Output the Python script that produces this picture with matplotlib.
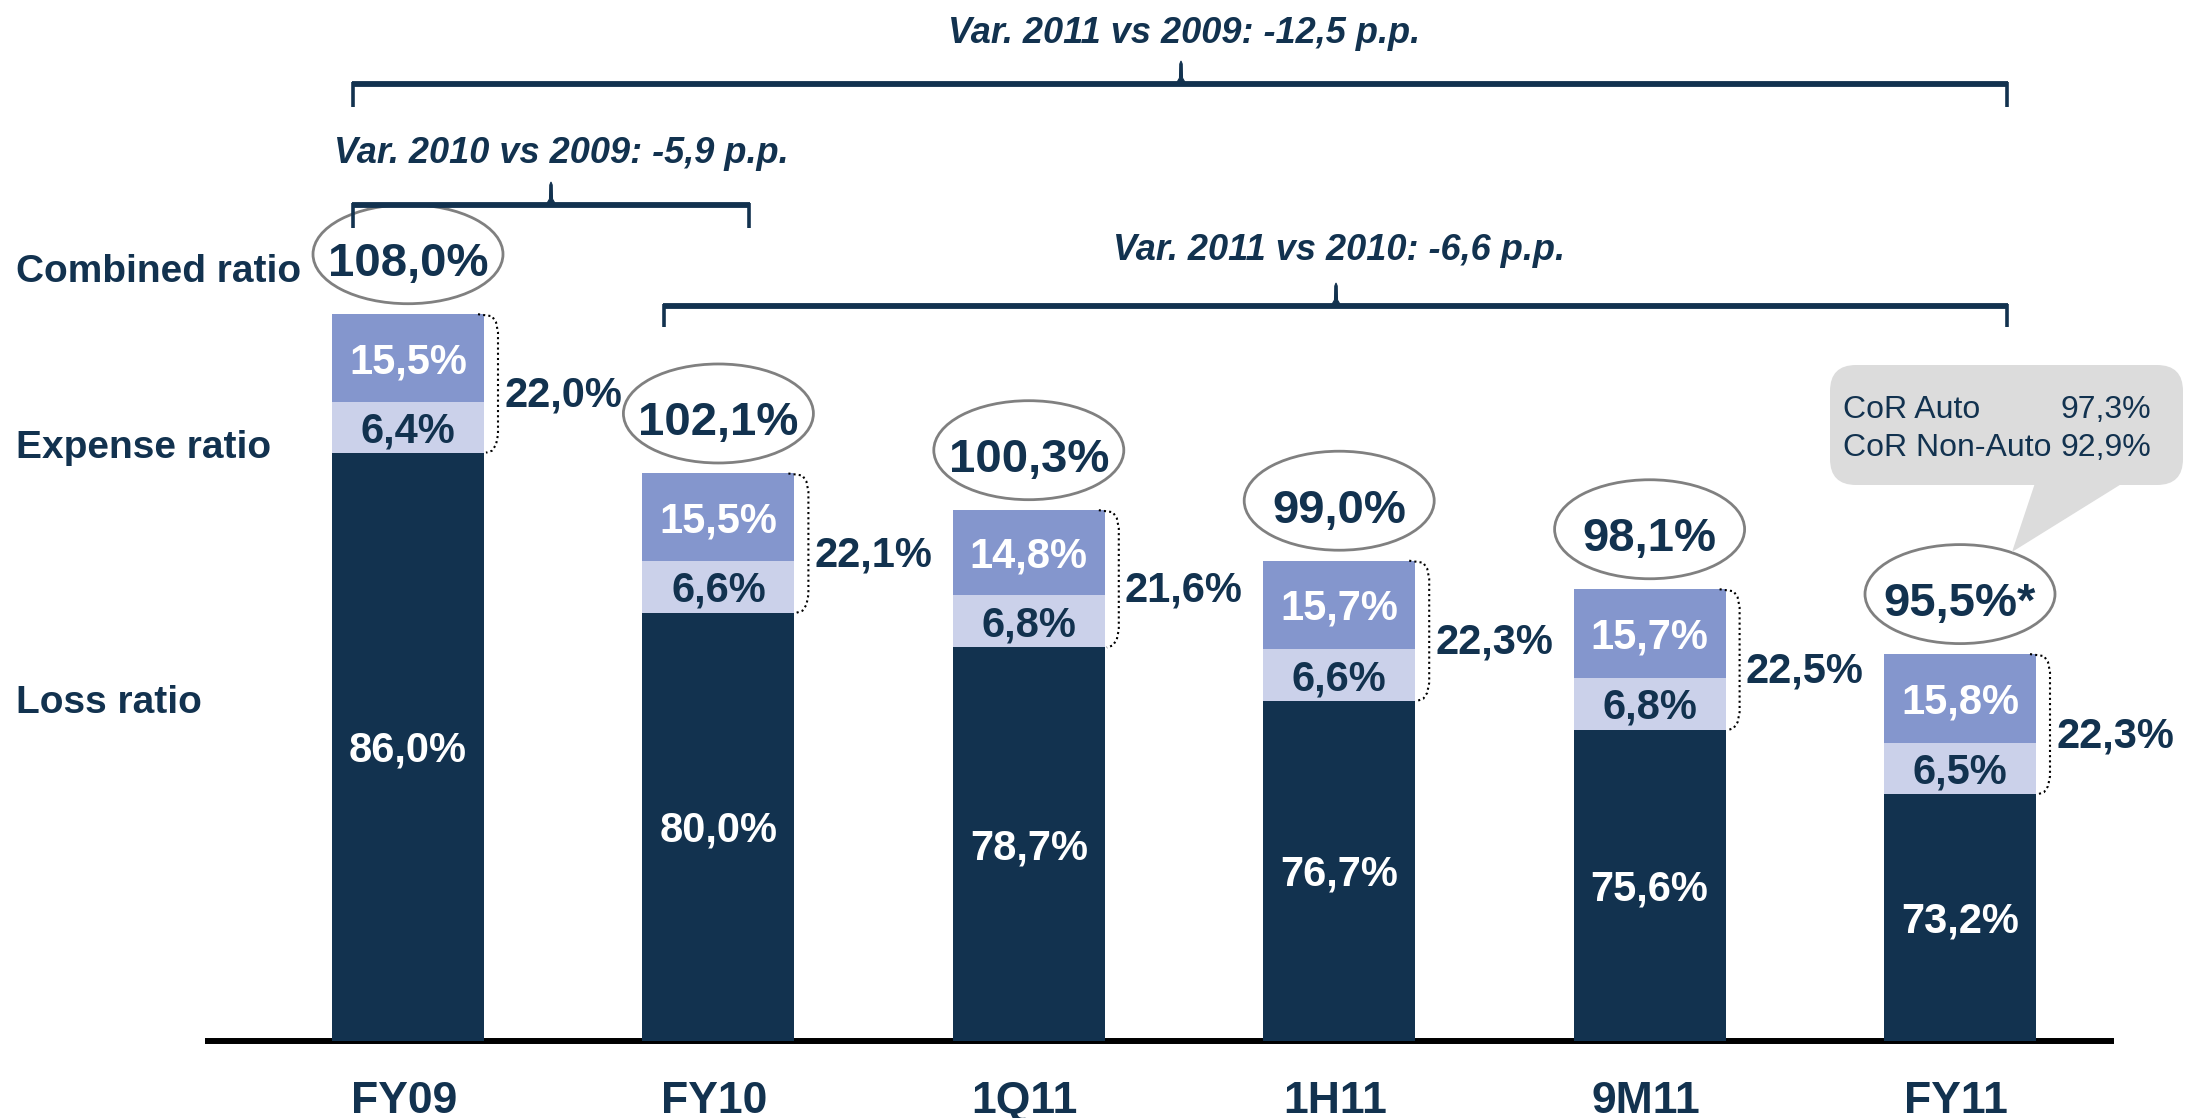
import matplotlib
matplotlib.use("Agg")
import matplotlib.pyplot as plt
from matplotlib.patches import Ellipse, FancyBboxPatch, Polygon
import numpy as np

# ---------------- data ----------------
categories = ["FY09", "FY10", "1Q11", "1H11", "9M11", "FY11"]
loss_ratio = [86.0, 80.0, 78.7, 76.7, 75.6, 73.2]
expense_lower = [6.4, 6.6, 6.8, 6.6, 6.8, 6.5]
expense_upper = [15.5, 15.5, 14.8, 15.7, 15.7, 15.8]
expense_total = [22.0, 22.1, 21.6, 22.3, 22.5, 22.3]
combined_ratio = [108.0, 102.1, 100.3, 99.0, 98.1, 95.5]
combined_suffix = ["", "", "", "", "", "*"]
row_labels = ["Combined ratio", "Expense ratio", "Loss ratio"]
var_labels = ["Var. 2011 vs 2009: -12,5 p.p.",
              "Var. 2010 vs 2009: -5,9 p.p.",
              "Var. 2011 vs 2010: -6,6 p.p."]
callout_labels = ["CoR Auto", "CoR Non-Auto"]
callout_values = [97.3, 92.9]

# ---------------- style ----------------
NAVY = "#12324F"
BLUE = "#8496CD"
LAV = "#CBD1EA"
GREY_EDGE = "#808080"
CALLOUT = "#DCDCDC"
FONT = ["Liberation Sans", "DejaVu Sans"]
plt.rcParams["font.family"] = FONT

W, H = 2188, 1118
BASE_PX = 1041          # baseline (pixels from top)
X0_PX, DX_PX = 408, 310.4
BAR_W = 152 / DX_PX

# visual (broken) scale used by the original slide
LOSS_K, LOSS_BASE = 26.68, 63.95
EXP_K, EXP_OFF = 4.05, 24.9


def loss_h(v):
    return LOSS_K * (v - LOSS_BASE)


def exp_h(v):
    return EXP_K * v + EXP_OFF


def fmt(v):
    return f"{v:.1f}".replace(".", ",") + "%"


fig = plt.figure(figsize=(W / 100, H / 100), dpi=100)
ax = fig.add_axes([0, 0, 1, 1])
ax.set_xlim(-X0_PX / DX_PX, (W - X0_PX) / DX_PX)
ax.set_ylim(-(H - BASE_PX), BASE_PX)
ax.axis("off")

x = np.arange(len(categories))
lh = np.array([loss_h(v) for v in loss_ratio])
l2 = np.array([exp_h(v) for v in expense_lower])
u2 = np.array([exp_h(v) for v in expense_upper])

# baseline
ax.plot([(205 - X0_PX) / DX_PX, (2114 - X0_PX) / DX_PX], [0, 0],
        color="black", lw=4.3, solid_capstyle="butt", zorder=1)

ax.bar(x, lh, width=BAR_W, color=NAVY, zorder=2)
ax.bar(x, l2, bottom=lh, width=BAR_W, color=LAV, zorder=2)
ax.bar(x, u2, bottom=lh + l2, width=BAR_W, color=BLUE, zorder=2)

px = 1 / DX_PX  # one pixel in x units
for i in range(len(categories)):
    top = lh[i] + l2[i] + u2[i]
    bot = lh[i]
    # labels in segments
    ax.text(i, lh[i] / 2 - 15, fmt(loss_ratio[i]), ha="center", va="baseline",
            color="white", fontsize=30, fontweight="bold", zorder=3)
    ax.text(i, lh[i] + l2[i] / 2 - 15, fmt(expense_lower[i]), ha="center",
            va="baseline", color=NAVY, fontsize=30, fontweight="bold", zorder=3)
    ax.text(i, lh[i] + l2[i] + u2[i] / 2 - 15, fmt(expense_upper[i]),
            ha="center", va="baseline", color="white", fontsize=30,
            fontweight="bold", zorder=3)
    # dotted bracket
    R = i + BAR_W / 2
    bx = [R - 6 * px, R + 8 * px, R + 12 * px, R + 14 * px, R + 14 * px,
          R + 12 * px, R + 8 * px, R + 2 * px]
    by = [top, top - 2, top - 8, top - 18, bot + 18, bot + 8, bot + 2, bot]
    ax.plot(bx, by, color="black", lw=1.5, ls=(0, (1, 1.5)), zorder=3)
    # total expense label
    mid = (top + bot) / 2
    ax.text(R + 20 * px, mid - 23, fmt(expense_total[i]), ha="left",
            va="baseline", color=NAVY, fontsize=30, fontweight="bold")
    # combined ratio ellipse
    cy = top + 60
    ax.add_patch(Ellipse((i, cy), width=190 * px, height=99, fill=False,
                         ec=GREY_EDGE, lw=2.0, zorder=3))
    ax.text(i, cy - 22, fmt(combined_ratio[i]) + combined_suffix[i],
            ha="center", va="baseline", color=NAVY, fontsize=34,
            fontweight="bold", zorder=4)
    # category label
    ax.text(i - 4 * px, -(1113 - BASE_PX), categories[i], ha="center",
            va="baseline", color=NAVY, fontsize=32, fontweight="bold")

# ---------------- overlay in pixel coordinates ----------------
ov = fig.add_axes([0, 0, 1, 1])
ov.set_xlim(0, W)
ov.set_ylim(H, 0)
ov.axis("off")
ov.patch.set_alpha(0)

# row labels
for lab, yb in zip(row_labels, [282, 458, 713]):
    ov.text(16, yb, lab, ha="left", va="baseline", color=NAVY, fontsize=28,
            fontweight="bold")


def bracket(x0, x1, y, yend, xm, ytip):
    ov.plot([x0, x1], [y, y], color=NAVY, lw=4.2, solid_capstyle="butt")
    ov.plot([x0 + 1, x0 + 1], [y - 2, yend], color=NAVY, lw=2.6,
            solid_capstyle="butt")
    ov.plot([x1 - 1, x1 - 1], [y - 2, yend], color=NAVY, lw=2.6,
            solid_capstyle="butt")
    ov.add_patch(Polygon([(xm - 5, y), (xm - 1.5, y - 6), (xm - 1.2, ytip + 3),
                          (xm, ytip), (xm + 1.2, ytip + 3), (xm + 1.5, y - 6),
                          (xm + 5, y)],
                         closed=True, fc=NAVY, ec=NAVY, lw=0.8))


bracket(352, 2008, 84, 107, 1181, 61)
bracket(352, 750, 205, 228, 551, 182)
bracket(663, 2008, 306, 327, 1336, 283)

for lab, (cx, yb) in zip(var_labels, [(1184, 43), (561, 163), (1339, 260)]):
    ov.text(cx, yb, lab, ha="center", va="baseline", color=NAVY, fontsize=26,
            fontweight="bold", fontstyle="italic")

# callout
ov.add_patch(FancyBboxPatch((1830, 365), 353, 120,
                            boxstyle="round,pad=0,rounding_size=26",
                            fc=CALLOUT, ec="none"))
ov.add_patch(Polygon([(2035, 483), (2123, 483), (2012, 552)], closed=True,
                     fc=CALLOUT, ec="none"))
for lab, val, yb in zip(callout_labels, callout_values, [418, 456]):
    ov.text(1843, yb, lab, ha="left", va="baseline", color=NAVY, fontsize=23)
    ov.text(2151, yb, fmt(val), ha="right", va="baseline", color=NAVY,
            fontsize=23)

fig.savefig("out.png", dpi=100, facecolor="white")
